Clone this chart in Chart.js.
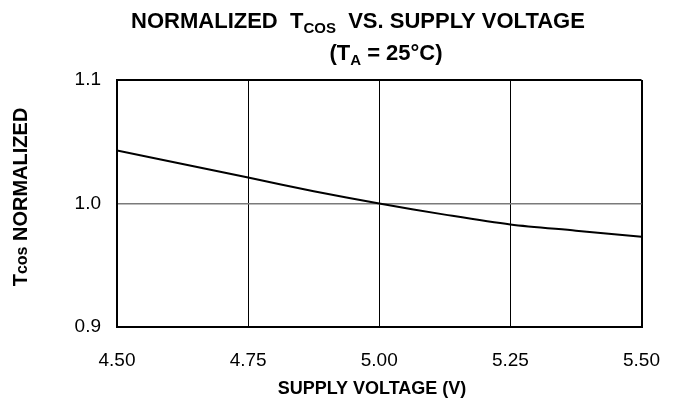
<!DOCTYPE html>
<html>
<head>
<meta charset="utf-8">
<script src="https://cdn.jsdelivr.net/npm/chart.js@4.4.1/dist/chart.umd.min.js"></script>
<style>
  html, body { margin: 0; padding: 0; background: #fff; }
  #wrap { width: 682px; height: 401px; position: relative; }
</style>
</head>
<body>
<div id="wrap"><canvas id="chart"></canvas></div>
<script>
// supply voltage (V) and normalized Tcos
const voltage = [4.50, 4.625, 4.75, 4.875, 5.00, 5.125, 5.25, 5.375, 5.50];
const tcosNorm = [1.043, 1.032, 1.021, 1.010, 1.000, 0.991, 0.983, 0.978, 0.973];

const xTicks = [4.50, 4.75, 5.00, 5.25, 5.50];
const yTicks = [0.9, 1.0, 1.1];

const FONT = '"Liberation Sans", Arial, Helvetica, sans-serif';

// draws text pieces in sequence: [text, size, dy]
function drawRuns(ctx, runs, cx, y, weight) {
    let total = 0;
    runs.forEach(r => {
        ctx.font = `${weight} ${r[1]}px ${FONT}`;
        total += ctx.measureText(r[0]).width;
    });
    let x = cx - total / 2;
    runs.forEach(r => {
        ctx.font = `${weight} ${r[1]}px ${FONT}`;
        ctx.fillText(r[0], x, y + (r[2] || 0));
        x += ctx.measureText(r[0]).width;
    });
}

const labelsPlugin = {
    id: 'labels',
    afterDraw(chart) {
        const ctx = chart.ctx;
        const area = chart.chartArea;
        ctx.save();
        ctx.fillStyle = '#000';
        ctx.textBaseline = 'alphabetic';
        drawRuns(ctx, [['NORMALIZED  T', 22], ['COS', 15, 5], ['  VS. SUPPLY VOLTAGE', 22]], 358, 28, 'bold');
        drawRuns(ctx, [['(T', 22], ['A', 15, 5], [' = 25°C)', 22]], 386, 60, 'bold');
        drawRuns(ctx, [['SUPPLY VOLTAGE (V)', 18]], 372, 394, 'bold');
        ctx.translate(27, 197);
        ctx.rotate(-Math.PI / 2);
        drawRuns(ctx, [['T', 20], ['cos', 16], [' NORMALIZED', 20]], 0, 0, 'bold');
        ctx.restore();
    }
};

const edge = (v, lo, hi) => Math.abs(v - lo) < 1e-6 || Math.abs(v - hi) < 1e-6;

new Chart(document.getElementById('chart'), {
    type: 'line',
    data: {
        datasets: [{
            data: voltage.map((v, i) => ({ x: v, y: tcosNorm[i] })),
            borderColor: '#000',
            borderWidth: 2,
            pointRadius: 0,
            tension: 0.3,
            fill: false
        }]
    },
    options: {
        responsive: true,
        maintainAspectRatio: false,
        animation: false,
        layout: { padding: { top: 80, right: 39, left: 0, bottom: 0 } },
        plugins: { legend: { display: false }, tooltip: { enabled: false } },
        scales: {
            x: {
                type: 'linear',
                min: 4.5,
                max: 5.5,
                afterFit: s => { s.height = 74; },
                afterBuildTicks: s => { s.ticks = xTicks.map(v => ({ value: v })); },
                ticks: {
                    color: '#000',
                    padding: 22,
                    font: { family: FONT, size: 19 },
                    callback: v => Number(v).toFixed(2)
                },
                grid: {
                    drawTicks: false,
                    color: '#000',
                    lineWidth: c => edge(c.tick.value, 4.5, 5.5) ? 2 : 1
                },
                border: { display: true, color: '#000', width: 2 }
            },
            y: {
                min: 0.9,
                max: 1.1,
                afterFit: s => { s.width = 117; },
                afterBuildTicks: s => { s.ticks = yTicks.map(v => ({ value: v })); },
                ticks: {
                    color: '#000',
                    padding: 16,
                    font: { family: FONT, size: 19 },
                    callback: v => Number(v).toFixed(1)
                },
                grid: {
                    drawTicks: false,
                    color: c => Math.abs(c.tick.value - 1.0) < 1e-6 ? '#7a7a7a' : '#000',
                    lineWidth: c => edge(c.tick.value, 0.9, 1.1) ? 2 : 1.5
                },
                border: { display: true, color: '#000', width: 2 }
            }
        }
    },
    plugins: [labelsPlugin]
});
</script>
</body>
</html>
